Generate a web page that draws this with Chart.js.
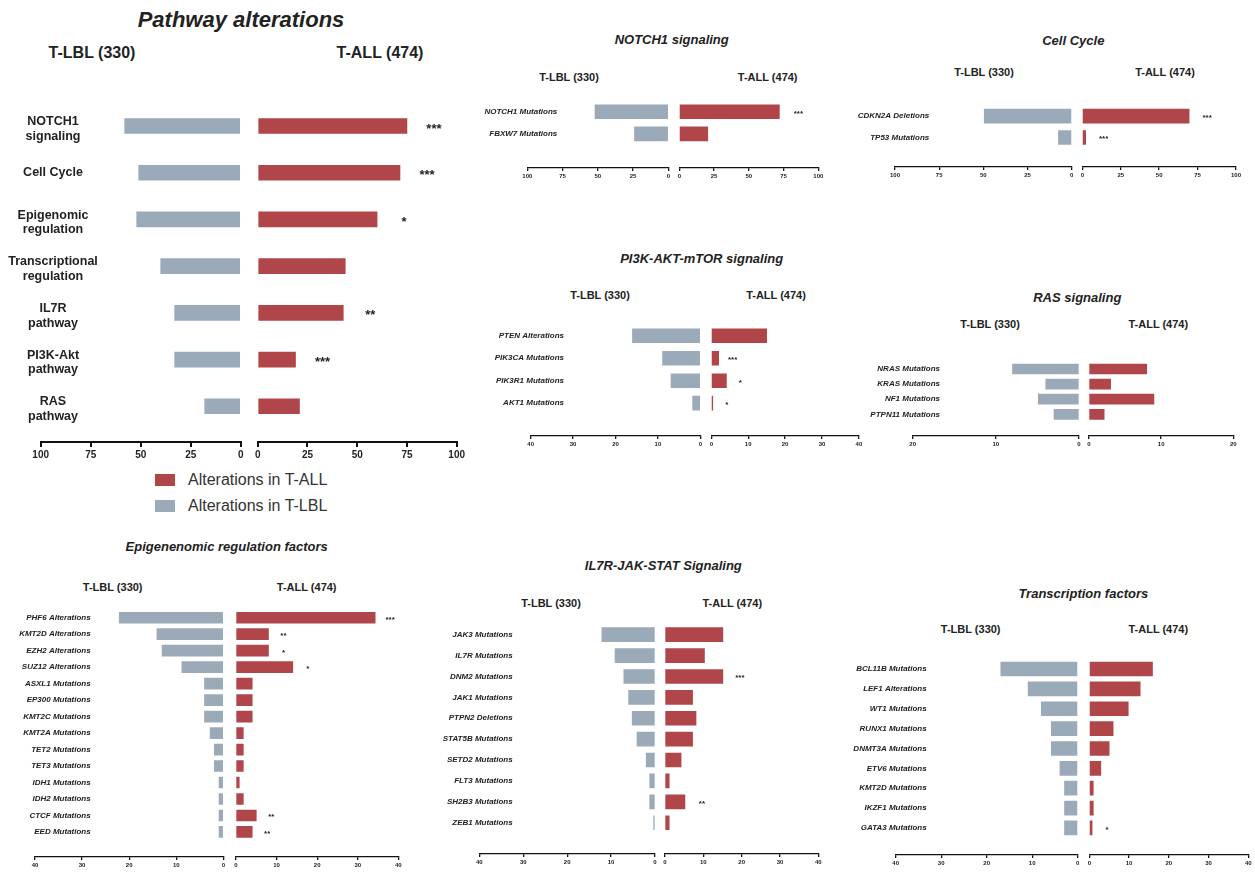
<!DOCTYPE html>
<html>
<head>
<meta charset="utf-8">
<script src="https://cdn.jsdelivr.net/npm/chart.js@4"></script>
<style>
  body { margin: 0; background: #fff; overflow: hidden; }
  #page { position: relative; width: 1255px; height: 875px; }
  canvas { position: absolute; }
  .t { position: absolute; transform: translate(-50%, -50%); white-space: nowrap; color: #222;
       font-family: 'Liberation Sans', Arial, sans-serif; }
  .leg { position: absolute; font: 16px 'Liberation Sans', Arial, sans-serif; color: #333; white-space: nowrap; }
  .leg span { display: inline-block; width: 20px; height: 12px; margin-right: 13px; vertical-align: -1px; }
</style>
</head>
<body>
<div id="page"></div>
<script>
// ---- data ----
const groupLeft = 'T-LBL (330)';
const groupRight = 'T-ALL (474)';

const ticks100 = [0, 25, 50, 75, 100];
const ticks40 = [0, 10, 20, 30, 40];
const ticks20 = [0, 10, 20];

const pathwayCats = [['NOTCH1', 'signaling'], ['Cell Cycle'], ['Epigenomic', 'regulation'], ['Transcriptional', 'regulation'], ['IL7R', 'pathway'], ['PI3K-Akt', 'pathway'], ['RAS', 'pathway']];
const pathwayLBL = [58, 51, 52, 40, 33, 33, 18];
const pathwayALL = [75, 71.5, 60, 44, 43, 19, 21];
const pathwaySig = ['***', '***', '*', '', '**', '***', ''];

const notchCats = ['NOTCH1 Mutations', 'FBXW7 Mutations'];
const notchLBL = [52, 24];
const notchALL = [72, 20.5];
const notchSig = ['***', ''];

const cycleCats = ['CDKN2A Deletions', 'TP53 Mutations'];
const cycleLBL = [49.5, 7.5];
const cycleALL = [69.5, 2.2];
const cycleSig = ['***', '***'];

const pi3kCats = ['PTEN Alterations', 'PIK3CA Mutations', 'PIK3R1 Mutations', 'AKT1 Mutations'];
const pi3kLBL = [16, 8.9, 6.9, 1.8];
const pi3kALL = [15, 2, 4.1, 0.4];
const pi3kSig = ['', '***', '*', '*'];

const rasCats = ['NRAS Mutations', 'KRAS Mutations', 'NF1 Mutations', 'PTPN11 Mutations'];
const rasLBL = [8, 4, 4.9, 3];
const rasALL = [8, 3, 9, 2.1];
const rasSig = ['', '', '', ''];

const epiCats = ['PHF6 Alterations', 'KMT2D Alterations', 'EZH2 Alterations', 'SUZ12 Alterations', 'ASXL1 Mutations', 'EP300 Mutations', 'KMT2C Mutations', 'KMT2A Mutations', 'TET2 Mutations', 'TET3 Mutations', 'IDH1 Mutations', 'IDH2 Mutations', 'CTCF Mutations', 'EED Mutations'];
const epiLBL = [22.1, 14.1, 13, 8.8, 4, 4, 4, 2.8, 1.9, 1.9, 0.9, 0.9, 0.9, 0.9];
const epiALL = [34.3, 8, 8, 14, 4, 4, 4, 1.8, 1.8, 1.8, 0.8, 1.8, 5, 4];
const epiSig = ['***', '**', '*', '*', '', '', '', '', '', '', '', '', '**', '**'];

const il7rCats = ['JAK3 Mutations', 'IL7R Mutations', 'DNM2 Mutations', 'JAK1 Mutations', 'PTPN2 Deletions', 'STAT5B Mutations', 'SETD2 Mutations', 'FLT3 Mutations', 'SH2B3 Mutations', 'ZEB1 Mutations'];
const il7rLBL = [12.1, 9.1, 7.1, 6, 5.2, 4.1, 2, 1.2, 1.2, 0.3];
const il7rALL = [15.1, 10.3, 15.1, 7.2, 8.1, 7.2, 4.2, 1.1, 5.2, 1.1];
const il7rSig = ['', '', '***', '', '', '', '', '', '**', ''];

const tfCats = ['BCL11B Mutations', 'LEF1 Alterations', 'WT1 Mutations', 'RUNX1 Mutations', 'DNMT3A Mutations', 'ETV6 Mutations', 'KMT2D Mutations', 'IKZF1 Mutations', 'GATA3 Mutations'];
const tfLBL = [16.9, 10.9, 8, 5.8, 5.8, 3.9, 2.9, 2.9, 2.9];
const tfALL = [15.9, 12.8, 9.8, 6, 5, 2.9, 1, 1, 0.7];
const tfSig = ['', '', '', '', '', '', '', '', '*'];

// ---- styles / layout ----
const LBL_COLOR = '#9AAAB9';
const ALL_COLOR = '#B0464A';
const FF = "'Liberation Sans', Arial, sans-serif";
const page = document.getElementById('page');

const big = { axisH: 22, tickSize: 10, tickLen: 5, axisW: 2, labelFont: 'bold 12.5px ' + FF, lineH: 14.5, align: 'center', sigFont: 'bold 13px ' + FF, titleSize: 22, headSize: 16 };
const small = { axisH: 13, tickSize: 6, tickLen: 3, axisW: 1.3, labelFont: 'italic bold 8px ' + FF, lineH: 9, align: 'right', sigFont: 'bold 8px ' + FF, titleSize: 13, headSize: 11 };

const panels = [
  { title: 'Pathway alterations', cats: pathwayCats, lbl: pathwayLBL, all: pathwayALL, sig: pathwaySig, ticks: ticks100, st: big,
    geo: { titleX: 241, titleY: 20, headY: 53, headL: 92, headR: 380, panelX: 0, xL100: 40.7, xL0: 240.7, xR0: 257.7, xR100: 456.7, first: 126, gap: 46.67, axisY: 441.7, bar: 15, labelX: 53, sigOff: 27 } },
  { title: 'NOTCH1 signaling', cats: notchCats, lbl: notchLBL, all: notchALL, sig: notchSig, ticks: ticks100, st: small,
    geo: { titleX: 671.7, titleY: 39.3, headY: 77, headL: 569, headR: 767.7, panelX: 470, xL100: 527.3, xL0: 668.3, xR0: 679.3, xR100: 818.3, first: 111.7, gap: 22, axisY: 167.7, bar: 14, labelX: 557.3, sigOff: 19 } },
  { title: 'Cell Cycle', cats: cycleCats, lbl: cycleLBL, all: cycleALL, sig: cycleSig, ticks: ticks100, st: small,
    geo: { titleX: 1073.3, titleY: 40, headY: 72.3, headL: 984, headR: 1165, panelX: 840, xL100: 895, xL0: 1071.7, xR0: 1082.3, xR100: 1236, first: 116, gap: 21.3, axisY: 166.7, bar: 14, labelX: 929.3, sigOff: 18 } },
  { title: 'PI3K-AKT-mTOR signaling', cats: pi3kCats, lbl: pi3kLBL, all: pi3kALL, sig: pi3kSig, ticks: ticks40, st: small,
    geo: { titleX: 701.7, titleY: 258.3, headY: 295, headL: 600, headR: 776, panelX: 470, xL100: 530.7, xL0: 700.3, xR0: 711.3, xR100: 858.9, first: 335.7, gap: 22.43, axisY: 435.7, bar: 14, labelX: 564, sigOff: 14 } },
  { title: 'RAS signaling', cats: rasCats, lbl: rasLBL, all: rasALL, sig: rasSig, ticks: ticks20, st: small,
    geo: { titleX: 1077.3, titleY: 296.7, headY: 324.3, headL: 990, headR: 1158.3, panelX: 860, xL100: 912.7, xL0: 1079, xR0: 1089, xR100: 1233.3, first: 369, gap: 15.1, axisY: 436, bar: 10, labelX: 940, sigOff: 15 } },
  { title: 'Epigenenomic regulation factors', cats: epiCats, lbl: epiLBL, all: epiALL, sig: epiSig, ticks: ticks40, st: small,
    geo: { titleX: 226.7, titleY: 546, headY: 587.3, headL: 112.7, headR: 306.7, panelX: 0, xL100: 35, xL0: 223.3, xR0: 236, xR100: 398.3, first: 617.7, gap: 16.46, axisY: 856.7, bar: 11, labelX: 90.7, sigOff: 15 } },
  { title: 'IL7R-JAK-STAT Signaling', cats: il7rCats, lbl: il7rLBL, all: il7rALL, sig: il7rSig, ticks: ticks40, st: small,
    geo: { titleX: 663.3, titleY: 565, headY: 603.3, headL: 551, headR: 732.3, panelX: 420, xL100: 479.3, xL0: 655, xR0: 665, xR100: 818.3, first: 634.7, gap: 20.89, axisY: 854, bar: 14, labelX: 512.7, sigOff: 17 } },
  { title: 'Transcription factors', cats: tfCats, lbl: tfLBL, all: tfALL, sig: tfSig, ticks: ticks40, st: small,
    geo: { titleX: 1083.3, titleY: 592.7, headY: 629.3, headL: 970.7, headR: 1158.3, panelX: 830, xL100: 895.7, xL0: 1077.7, xR0: 1089.3, xR100: 1248.3, first: 669, gap: 19.79, axisY: 854.3, bar: 14, labelX: 926.7, sigOff: 15 } }
];

function addText(txt, x, y, css) {
  const d = document.createElement('div');
  d.className = 't';
  d.textContent = txt;
  d.style.left = x + 'px';
  d.style.top = y + 'px';
  d.style.cssText += css;
  page.appendChild(d);
}

function side(p, isLeft) {
  const g = p.geo, st = p.st;
  const areaTop = g.first - g.gap / 2;
  const xa = isLeft ? g.xL100 : g.xR0;
  const xb = isLeft ? g.xL0 : g.xR100;
  const cLeft = Math.floor(isLeft ? g.panelX : xa - 8);
  const cTop = Math.floor(areaTop - 6);
  const w = Math.ceil((isLeft ? xb + 8 : xb + 30) - cLeft);
  const h = Math.ceil(g.axisY + st.axisH + 2 - cTop);
  const canvas = document.createElement('canvas');
  canvas.width = w; canvas.height = h;
  canvas.style.left = cLeft + 'px';
  canvas.style.top = cTop + 'px';
  canvas.style.width = w + 'px';
  canvas.style.height = h + 'px';
  page.appendChild(canvas);

  const vals = isLeft ? p.lbl : p.all;
  const ticks = p.ticks;
  const yMax = (g.axisY - areaTop) / g.gap - 0.5;

  const marks = {
    id: 'marks',
    afterDraw(chart) {
      const ctx = chart.ctx, ys = chart.scales.y, xs = chart.scales.x;
      ctx.save();
      ctx.fillStyle = '#222';
      if (isLeft) {
        ctx.font = st.labelFont;
        ctx.textAlign = st.align;
        ctx.textBaseline = 'middle';
        p.cats.forEach((c, i) => {
          const lines = Array.isArray(c) ? c : [c];
          const yc = ys.getPixelForValue(i) + (lines.length > 1 ? 3 : 0);
          lines.forEach((ln, k) => {
            ctx.fillText(ln, g.labelX - cLeft, yc + (k - (lines.length - 1) / 2) * st.lineH);
          });
        });
      } else {
        ctx.font = st.sigFont;
        ctx.textAlign = 'center';
        ctx.textBaseline = 'middle';
        p.sig.forEach((s, i) => {
          if (!s) return;
          ctx.fillText(s, xs.getPixelForValue(vals[i]) + g.sigOff, ys.getPixelForValue(i) + st.tickSize * 0.3);
        });
      }
      ctx.restore();
    }
  };

  new Chart(canvas, {
    type: 'bar',
    data: {
      datasets: [{
        data: vals.map((v, i) => ({ x: v, y: i })),
        backgroundColor: isLeft ? LBL_COLOR : ALL_COLOR,
        borderWidth: 0,
        barThickness: g.bar
      }]
    },
    options: {
      indexAxis: 'y',
      responsive: false,
      animation: false,
      devicePixelRatio: 1,
      layout: {
        autoPadding: false,
        padding: { left: xa - cLeft, right: cLeft + w - xb, top: areaTop - cTop, bottom: 2 }
      },
      plugins: { legend: { display: false }, tooltip: { enabled: false } },
      scales: {
        x: {
          type: 'linear',
          min: ticks[0],
          max: ticks[ticks.length - 1],
          reverse: isLeft,
          afterBuildTicks: s => { s.ticks = ticks.map(v => ({ value: v })); },
          afterFit: s => { s.height = st.axisH; },
          ticks: { color: '#222', font: { family: FF, size: st.tickSize, weight: 'bold' }, padding: 2, maxRotation: 0, autoSkip: false },
          grid: { drawOnChartArea: false, drawTicks: true, tickLength: st.tickLen, color: '#111', lineWidth: st.axisW },
          border: { display: true, color: '#111', width: st.axisW }
        },
        y: {
          type: 'linear',
          reverse: true,
          bounds: 'data',
          offset: false,
          grace: 0,
          min: -0.5,
          max: yMax,
          afterDataLimits: s => { s.min = -0.5; s.max = yMax; },
          afterBuildTicks: s => { s.ticks = [{ value: -0.5 }, { value: yMax }]; s.min = -0.5; s.max = yMax; },
          display: false
        }
      }
    },
    plugins: [marks]
  });
}

panels.forEach(p => {
  const g = p.geo, st = p.st;
  addText(p.title, g.titleX, g.titleY, `font: italic bold ${st.titleSize}px ${FF};`);
  addText(groupLeft, g.headL, g.headY, `font: bold ${st.headSize}px ${FF};`);
  addText(groupRight, g.headR, g.headY, `font: bold ${st.headSize}px ${FF};`);
  side(p, true);
  side(p, false);
});

// legend for the overview panel
[['Alterations in T-ALL', ALL_COLOR, 481], ['Alterations in T-LBL', LBL_COLOR, 507]].forEach(([txt, col, y]) => {
  const d = document.createElement('div');
  d.className = 'leg';
  d.style.left = '155px';
  d.style.top = (y - 10) + 'px';
  d.innerHTML = `<span style="background:${col}"></span>` + txt;
  page.appendChild(d);
});
</script>
</body>
</html>
